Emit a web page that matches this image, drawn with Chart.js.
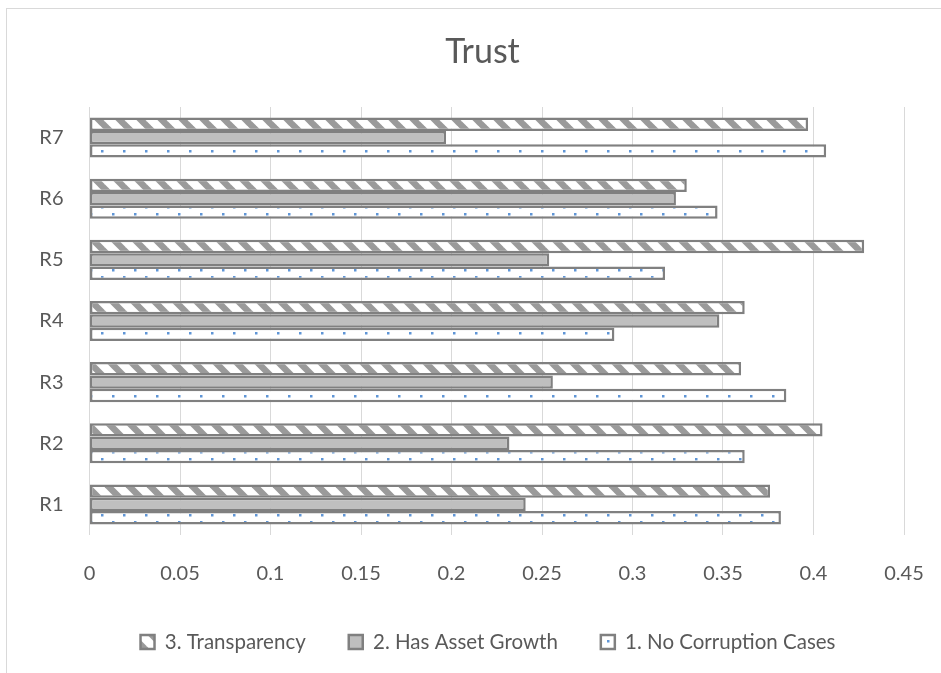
<!DOCTYPE html>
<html>
<head>
<meta charset="utf-8">
<script src="https://cdn.jsdelivr.net/npm/chart.js@4/dist/chart.umd.min.js"></script>
<style>
  html, body { margin: 0; padding: 0; background: #fff; }
  #wrap { width: 941px; height: 673px; }
</style>
</head>
<body>
<div id="wrap"><canvas id="chartTrust" width="941" height="673"></canvas></div>
<script>
// Datos (de abajo hacia arriba: R1 ... R7)
const categorias = ['R1', 'R2', 'R3', 'R4', 'R5', 'R6', 'R7'];
const transparencia = [0.376, 0.405, 0.360, 0.362, 0.428, 0.330, 0.397];
const crecimientoActivos = [0.241, 0.232, 0.256, 0.348, 0.254, 0.324, 0.197];
const sinCorrupcion = [0.382, 0.362, 0.385, 0.290, 0.318, 0.347, 0.407];
const nombresSeries = ['3. Transparency', '2. Has Asset Growth', '1. No Corruption Cases'];
const ticksX = [0, 0.05, 0.1, 0.15, 0.2, 0.25, 0.3, 0.35, 0.4, 0.45];
const etiquetasX = ['0', '0.05', '0.1', '0.15', '0.2', '0.25', '0.3', '0.35', '0.4', '0.45'];

const FUENTE = 'Lato, Calibri, "DejaVu Sans", sans-serif';
const GRIS_TEXTO = '#595959';
const GRIS_BORDE = '#808080';

/**
 * Patron de rayas diagonales
 */
function patronRayas() {
  const s = 21;
  const c = document.createElement('canvas');
  c.width = s; c.height = s;
  const g = c.getContext('2d');
  g.fillStyle = '#fff';
  g.fillRect(0, 0, s, s);
  g.strokeStyle = '#9a9a9a';
  g.lineWidth = 6.5;
  for (let k = -1; k <= 1; k++) {
    g.beginPath();
    g.moveTo(k * s - 2, -2);
    g.lineTo(k * s + s + 2, s + 2);
    g.stroke();
  }
  return g.createPattern(c, 'repeat');
}

/**
 * Patron de puntos azules
 */
function patronPuntos() {
  const w = 22, h = 14;
  const c = document.createElement('canvas');
  c.width = w; c.height = h;
  const g = c.getContext('2d');
  g.fillStyle = '#fff';
  g.fillRect(0, 0, w, h);
  g.fillStyle = '#5f95d6';
  g.fillRect(2, 3, 2.5, 2.5);
  g.fillRect(13, 10, 2.5, 2.5);
  return g.createPattern(c, 'repeat');
}

// Marco gris del grafico y centrado del titulo / leyenda
const marco = {
  id: 'marco',
  afterLayout(chart) {
    if (chart.titleBlock) { chart.titleBlock.left = 24; chart.titleBlock.right = 941; }
    if (chart.legend) { chart.legend.left = 35; chart.legend.right = 941; }
  },
  beforeDraw(chart) {
    const ctx = chart.ctx;
    ctx.save();
    ctx.fillStyle = '#fff';
    ctx.fillRect(0, 0, chart.width, chart.height);
    ctx.strokeStyle = '#d9d9d9';
    ctx.lineWidth = 1;
    ctx.strokeRect(6.5, 8.5, 1200, 1200);
    ctx.restore();
  }
};

const etiquetas = categorias.slice().reverse();
const rev = arr => arr.slice().reverse();

new Chart(document.getElementById('chartTrust'), {
  type: 'bar',
  data: {
    labels: etiquetas,
    datasets: [
      {
        label: nombresSeries[0],
        data: rev(transparencia),
        backgroundColor: patronRayas(),
        borderColor: GRIS_BORDE,
        borderWidth: 2.5,
        borderSkipped: false
      },
      {
        label: nombresSeries[1],
        data: rev(crecimientoActivos),
        backgroundColor: '#bfbfbf',
        borderColor: GRIS_BORDE,
        borderWidth: 2.5,
        borderSkipped: false
      },
      {
        label: nombresSeries[2],
        data: rev(sinCorrupcion),
        backgroundColor: patronPuntos(),
        borderColor: GRIS_BORDE,
        borderWidth: 2.5,
        borderSkipped: false
      }
    ]
  },
  options: {
    indexAxis: 'y',
    responsive: false,
    animation: false,
    layout: { padding: { left: 8, right: 37, top: 8, bottom: 10.75 } },
    datasets: {
      bar: { categoryPercentage: 0.655, barPercentage: 1.0 }
    },
    scales: {
      x: {
        min: 0,
        max: 0.45,
        afterBuildTicks: scale => { scale.ticks = ticksX.map(v => ({ value: v })); },
        afterFit: scale => {
          scale.height = 53.75;
          scale.paddingLeft = 0;
          scale.paddingRight = 0;
        },
        grid: { color: '#d9d9d9', lineWidth: 1, drawTicks: false },
        border: { display: false },
        ticks: {
          padding: 27,
          color: GRIS_TEXTO,
          font: { family: FUENTE, size: 20 },
          callback: (v, i) => etiquetasX[i]
        }
      },
      y: {
        afterFit: scale => { scale.width = 81.5; },
        grid: { display: false, drawTicks: false },
        border: { display: false },
        ticks: {
          padding: 26,
          color: GRIS_TEXTO,
          font: { family: FUENTE, size: 20 }
        }
      }
    },
    plugins: {
      title: {
        display: true,
        text: 'Trust',
        color: GRIS_TEXTO,
        font: { family: FUENTE, size: 34, weight: 'normal' },
        padding: { top: 24, bottom: 34.2 }
      },
      legend: {
        position: 'bottom',
        labels: {
          color: GRIS_TEXTO,
          font: { family: FUENTE, size: 20.5 },
          boxWidth: 14,
          boxHeight: 14,
          padding: 43
        }
      },
      tooltip: { enabled: false }
    }
  },
  plugins: [marco]
});
</script>
</body>
</html>
